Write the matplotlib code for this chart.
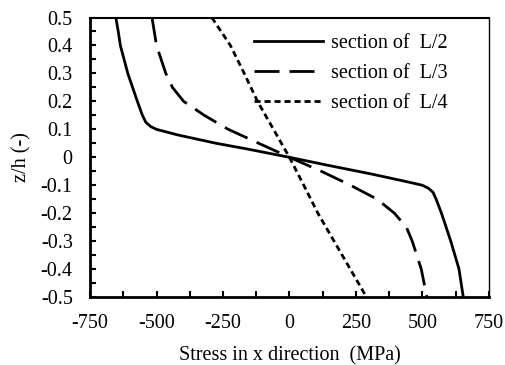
import matplotlib.pyplot as plt
from matplotlib.ticker import MultipleLocator

plt.rcParams['font.family'] = ['Liberation Serif', 'DejaVu Serif']
plt.rcParams['font.size'] = 14.5
plt.rcParams['axes.unicode_minus'] = False

# stress through the thickness at three sections
z_half = [0.5, 0.45, 0.4, 0.3, 0.2, 0.15, 0.125, 0.11, 0.1, 0.08, 0.05, 0.03, 0.0,
          -0.03, -0.06, -0.09, -0.1, -0.11, -0.125, -0.15, -0.2, -0.3, -0.4, -0.45, -0.5]
s_half = [-653, -644, -636, -608, -572, -553, -540, -522, -500, -420, -275, -160, 0,
          152, 310, 455, 500, 522, 540, 552, 572, 607, 638, 646, 654]

z_third = [0.5, 0.4, 0.3, 0.25, 0.2, 0.15, 0.1, 0.05, 0.0,
           -0.05, -0.1, -0.15, -0.2, -0.25, -0.3, -0.4, -0.5]
s_third = [-517, -500, -465, -440, -398, -320, -230, -115, 0,
           120, 230, 330, 395, 440, 462, 496, 517]

z_quarter = [0.5, 0.4, 0.3, 0.2, 0.1, 0.0, -0.1, -0.2, -0.3, -0.4, -0.5]
s_quarter = [-292, -222, -170, -120, -60, 0, 54, 107, 168, 229, 290]

labels = ['section of  L/2', 'section of  L/3', 'section of  L/4']

fig = plt.figure(figsize=(5.06, 3.65), dpi=100)
ax = fig.add_axes([0.178, 0.186, 0.788, 0.766])

ax.plot(s_half, z_half, color='black', lw=2, label=labels[0])
ax.plot(s_third, z_third, color='black', lw=2, dashes=(9, 3.6), label=labels[1])
ax.plot(s_quarter, z_quarter, color='black', lw=2, dashes=(2.2, 1.4), label=labels[2])

ax.set_xlim(-750, 750)
ax.set_ylim(-0.5, 0.5)
ax.xaxis.set_major_locator(MultipleLocator(250))
ax.xaxis.set_minor_locator(MultipleLocator(125))
ax.yaxis.set_major_locator(MultipleLocator(0.1))
ax.yaxis.set_minor_locator(MultipleLocator(0.05))
ax.yaxis.set_major_formatter(lambda v, p: '0' if abs(v) < 1e-9 else f'{v:.1f}')

ax.tick_params(which='both', direction='in', length=4, width=1.5,
               top=False, right=False)
ax.tick_params(axis='x', which='major', pad=12)
ax.tick_params(axis='y', which='major', pad=12.5)

ax.spines['left'].set_linewidth(2)
ax.spines['bottom'].set_linewidth(2)
ax.spines['top'].set_linewidth(1.5)
ax.spines['right'].set_linewidth(1)

ax.set_xlabel('Stress in x direction  (MPa)', labelpad=10)
ax.set_ylabel('z/h (-)', labelpad=7)

ax.legend(loc='upper right', bbox_to_anchor=(0.917, 0.97), borderaxespad=0,
          frameon=False, handlelength=3.43, labelspacing=0.55, handletextpad=0.4)

fig.savefig('out.png', dpi=100)
